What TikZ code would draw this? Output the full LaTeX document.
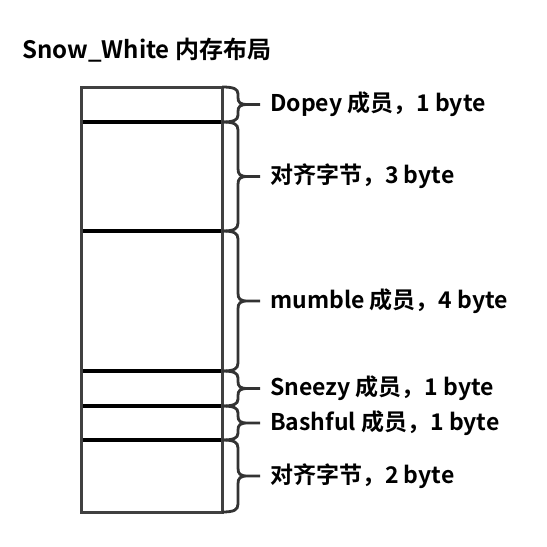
\documentclass[tikz,border=0pt]{standalone}
\usepackage{fontspec}
\usetikzlibrary{calc}
\setmainfont{Noto Sans CJK SC}[BoldFont={Noto Sans CJK SC Bold}]
\begin{document}
\begin{tikzpicture}[x=1pt,y=-1pt,
  cellbox/.style={draw=none,minimum width=141pt,inner sep=0pt,outer sep=0pt},
  memlabel/.style={anchor=west,inner sep=0pt,font=\bfseries\fontsize{23}{26}\selectfont},
  bracestyle/.style={draw=black!80,line width=2.8pt},
  outline/.style={draw=black!75,line width=3pt},
  divider/.style={draw=black,line width=3.4pt}]
\useasboundingbox (0,0) rectangle (547,547);
\node[anchor=base west,inner sep=0pt,font=\bfseries\fontsize{24}{28}\selectfont] (title) at (22,58) {Snow\_White 内存布局};
\node[cellbox,minimum height=35pt] (c1) at (151.5,104.5) {};
\node[cellbox,minimum height=109pt] (c2) at (151.5,176.5) {};
\node[cellbox,minimum height=140pt] (c3) at (151.5,301) {};
\node[cellbox,minimum height=35pt] (c4) at (151.5,388.5) {};
\node[cellbox,minimum height=34pt] (c5) at (151.5,423) {};
\node[cellbox,minimum height=72pt] (c6) at (151.5,476) {};
\node[memlabel] (l1) at (270,104.5) {Dopey 成员，1 byte};
\node[memlabel] (l2) at (270,176.5) {对齐字节，3 byte};
\node[memlabel] (l3) at (270,301) {mumble 成员，4 byte};
\node[memlabel] (l4) at (270,388.5) {Sneezy 成员，1 byte};
\node[memlabel] (l5) at (270,423) {Bashful 成员，1 byte};
\node[memlabel] (l6) at (270,476) {对齐字节，2 byte};
\foreach \c in {c1,c2,c3,c4,c5}
  \draw[divider] (\c.south west) -- (\c.south east);
\draw[outline] (c1.north west) rectangle (c6.south east);
\foreach \c/\l/\r in {c1/l1/7pt,c2/l2/8pt,c3/l3/8pt,c4/l4/7pt,c5/l5/7pt,c6/l6/8pt}
  \draw[bracestyle] let \p1=(\c.north east), \p2=(\c.south east), \p3=(\l.west) in
    (\x1,\y1) .. controls (\x1+12pt,\y1) and (\x1+16pt,\y1-2pt) .. (\x1+16pt,\y1-\r)
    -- (\x1+16pt,\y3+\r) .. controls (\x1+16pt,\y3+2pt) and (\x1+18pt,\y3) .. (\x1+26pt,\y3)
    -- (\x3-10pt,\y3)
    (\x1+26pt,\y3) .. controls (\x1+18pt,\y3) and (\x1+16pt,\y3-2pt) .. (\x1+16pt,\y3-\r)
    -- (\x1+16pt,\y2+\r) .. controls (\x1+16pt,\y2+2pt) and (\x1+12pt,\y2) .. (\x2,\y2);
\end{tikzpicture}
\end{document}
